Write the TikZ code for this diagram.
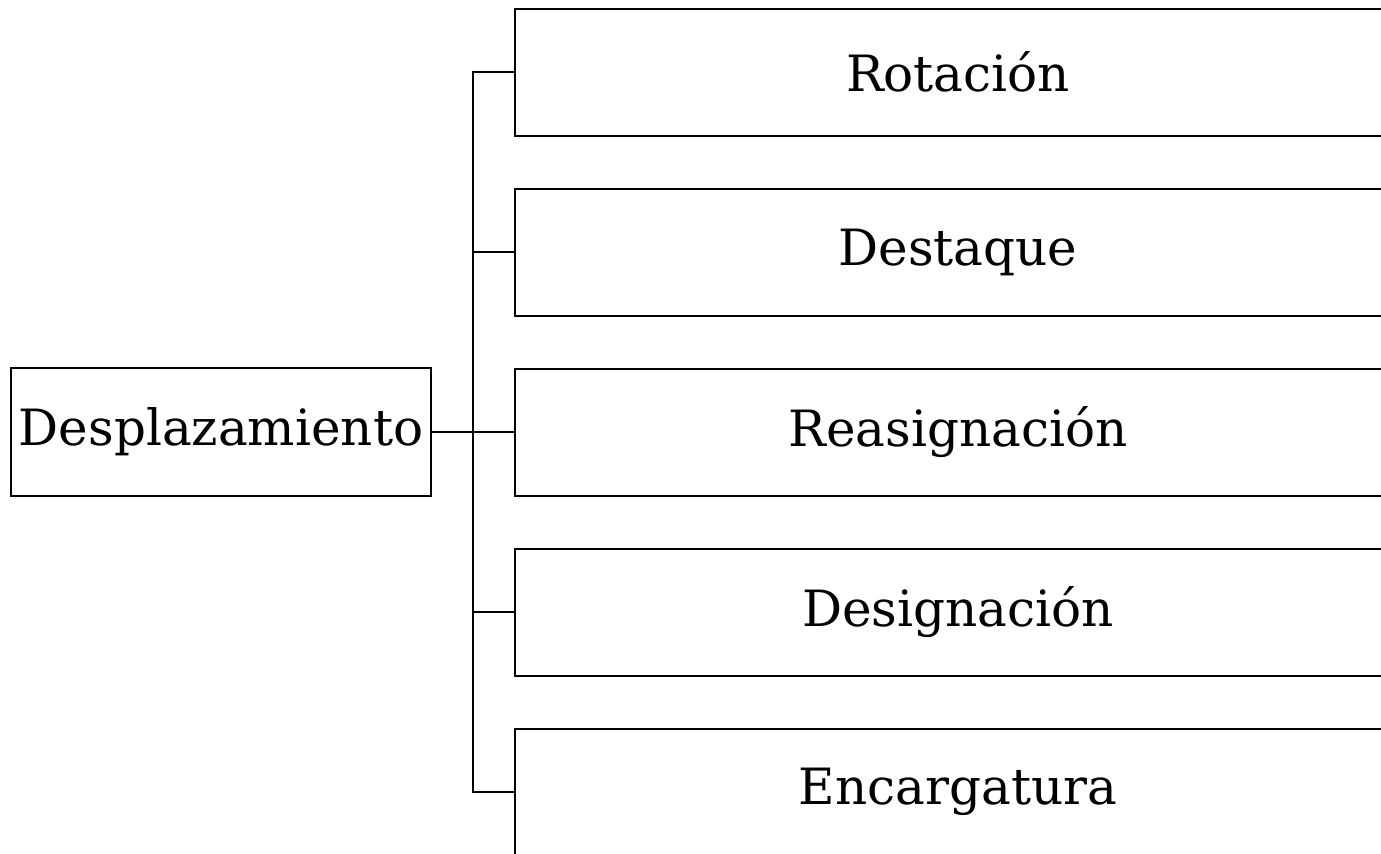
\documentclass[tikz,border=0pt]{standalone}
\usepackage{fontspec}
\setmainfont{DejaVu Serif}
\begin{document}
\begin{tikzpicture}[x=0.75pt,y=-0.75pt,line width=1.5pt,
  boxstyle/.style={draw,line width=1.5pt,inner sep=0pt,font=\fontsize{37.5}{45}\selectfont},
  rootbox/.style={boxstyle,minimum width=315pt,minimum height=96pt},
  leafbox/.style={boxstyle,minimum width=664.5pt,minimum height=95.25pt}]
\useasboundingbox (0,0) rectangle (1381,853);
\clip (0,0) rectangle (1381,853);
\node[rootbox] (root) at (221,432) {Desplazamiento};
\node[leafbox] (b1) at (958,72) {Rotación};
\node[leafbox] (b2) at (958,252) {Destaque};
\node[leafbox] (b3) at (958,432) {Reasignación};
\node[leafbox] (b4) at (958,612) {Designación};
\node[leafbox] (b5) at (958,792) {Encargatura};
\coordinate (sp) at (473,432);
\draw (root.east) -- (b3.west);
\draw (b1.west) -| (sp) |- (b5.west);
\draw (b2.west) -- (b2.west -| sp);
\draw (b4.west) -- (b4.west -| sp);
\end{tikzpicture}
\end{document}
